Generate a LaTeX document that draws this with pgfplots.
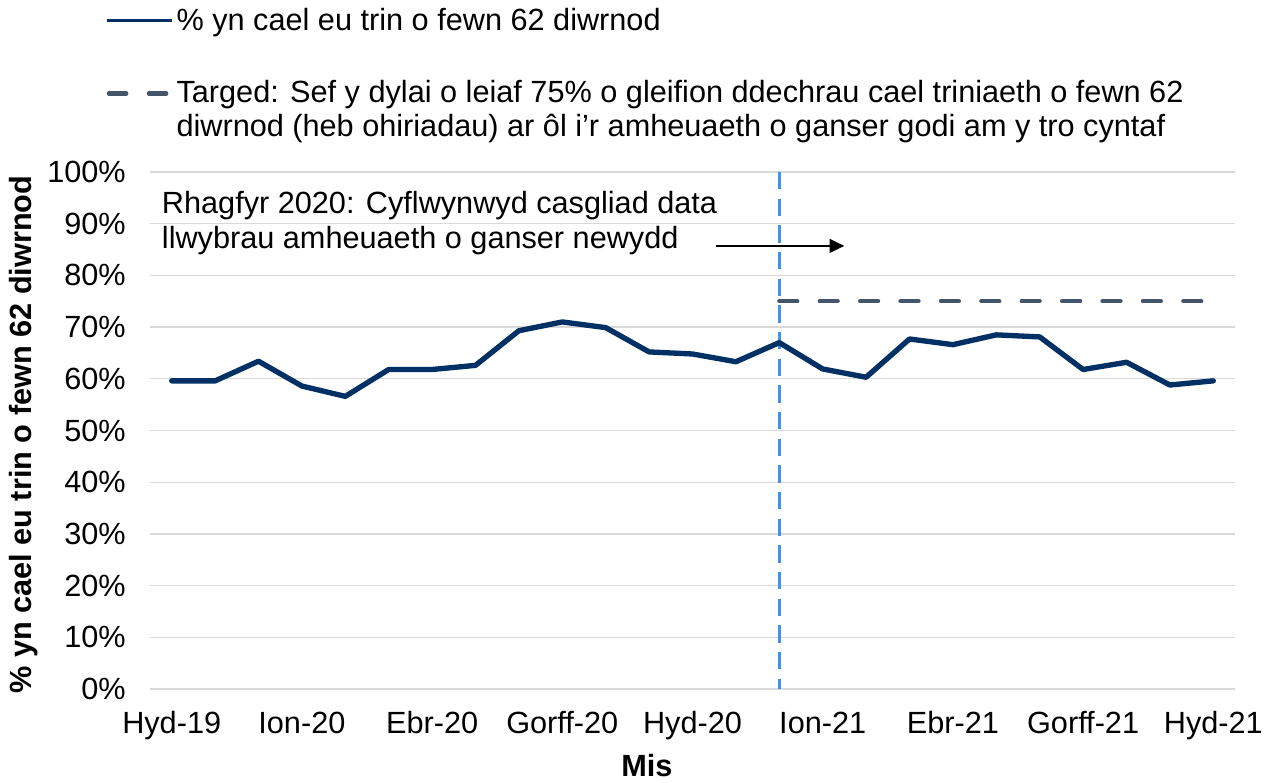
\documentclass[border=0pt]{standalone}
\usepackage{fontspec}
\setmainfont{Liberation Sans}
\usepackage{pgfplots}
\pgfplotsset{compat=1.18}
\usetikzlibrary{arrows.meta}
\definecolor{navy}{RGB}{0,48,100}
\definecolor{slate}{RGB}{68,84,106}
\definecolor{vblue}{RGB}{66,146,240}
\definecolor{gridc}{RGB}{217,217,217}
\newcommand{\cf}{\fontsize{23}{25}\selectfont}
\pgfplotsset{
 legmain/.style={legend image code/.code={\draw[##1, line width=2.5pt, line cap=butt] (0pt,0pt) -- (49pt,0pt);}},
 legtarget/.style={legend image code/.code={\draw[##1, dash pattern=on 13pt off 17pt] (1.5pt,12pt) -- (46pt,12pt);}},
}
\begin{document}
\begin{tikzpicture}
\useasboundingbox (-112.5pt,-69.75pt) rectangle (840.75pt,516.75pt);
\begin{axis}[
 scale only axis, width=813.75pt, height=387.75pt,
 xmin=-0.5, xmax=24.5, ymin=0, ymax=100,
 clip=false,
 axis line style={draw=none},
 major tick length=0pt,
 ymajorgrids, grid style={gridc, line width=1pt},
 ytick={0,10,...,100},
 yticklabel={\pgfmathprintnumber{\tick}\%},
 xtick={0,3,...,24},
 xticklabels={Hyd-19,Ion-20,Ebr-20,Gorff-20,Hyd-20,Ion-21,Ebr-21,Gorff-21,Hyd-21},
 tick label style={font=\cf, text=black},
 /pgf/number format/assume math mode=true,
 yticklabel style={anchor=east, inner sep=0pt, xshift=-18pt},
 xticklabel style={anchor=base, inner sep=0pt, yshift=-33pt},
 xlabel={Mis}, ylabel={\% yn cael eu trin o fewn 62 diwrnod},
 label style={font=\cf\bfseries},
 xlabel style={at={(axis description cs:0.458,0)}, anchor=base, yshift=-65.5pt},
 ylabel style={at={(axis description cs:-0.1088,0.492)}, anchor=base},
 legend cell align=left,
 legend style={at={(axis description cs:-0.0415,1.322)}, anchor=north west, draw=none, fill=none, inner sep=0pt, font=\cf, row sep=32pt, cells={align=left}},
]
\addplot[vblue, line width=2pt, dash pattern=on 13pt off 7pt, forget plot] coordinates {(14,100) (14,0)};
\addplot[navy, line width=4pt, line join=round, line cap=round, legmain]
 coordinates {
 (0,59.6) (1,59.6) (2,63.4) (3,58.6) (4,56.6) (5,61.8) (6,61.8) (7,62.6)
 (8,69.3) (9,71.0) (10,69.9) (11,65.2) (12,64.8) (13,63.3) (14,67.0)
 (15,61.9) (16,60.3) (17,67.7) (18,66.6) (19,68.5) (20,68.1) (21,61.8)
 (22,63.2) (23,58.8) (24,59.6)};
\addlegendentry{\% yn cael eu trin o fewn 62 diwrnod}
\addplot[slate, line width=3.2pt, line cap=round, dash pattern=on 13.5pt off 16.8pt, legtarget]
 coordinates {(14,75) (24,75)};
\addlegendentry{Targed: Sef y dylai o leiaf 75\% o gleifion ddechrau cael triniaeth o fewn 62\\diwrnod (heb ohiriadau) ar ôl i'r amheuaeth o ganser godi am y tro cyntaf}
\addplot[black, line width=2pt, -{Triangle[length=11pt,width=10pt]}, forget plot] coordinates {(12.53,85.7) (15.5,85.7)};
\node[anchor=north west, align=left, inner sep=0pt, font=\fontsize{23}{26}\selectfont] at (axis cs:-0.23,96.3) {Rhagfyr 2020: Cyflwynwyd casgliad data\\llwybrau amheuaeth o ganser newydd};
\end{axis}
\end{tikzpicture}
\end{document}
